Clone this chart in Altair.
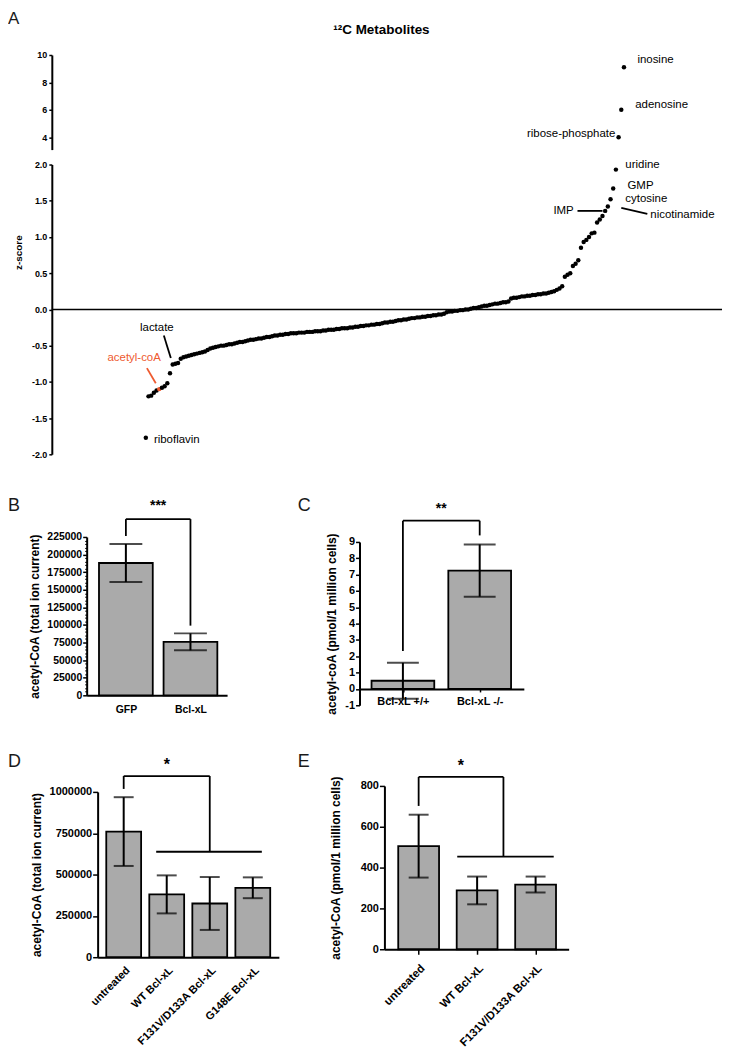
import json
import altair as alt
import pandas as pd

FONT = "Liberation Sans"
BAR_FILL = "#aaaaaa"
RED = "#ee5a2f"
MINUS = "\u2212"

# ---------------- Panel A : ranked z-scores of 12C metabolites ----------------
z_scores = [
    -1.77, -1.20, -1.19, -1.15, -1.12, -1.10, -1.08, -1.06, -1.02, -0.88,
    -0.76, -0.75, -0.74, -0.68, -0.66, -0.65, -0.64, -0.63, -0.62, -0.61,
    -0.60, -0.59, -0.58, -0.56, -0.54, -0.53, -0.52, -0.51, -0.50, -0.50,
    -0.49, -0.48, -0.48, -0.47, -0.46, -0.45, -0.45, -0.44, -0.43, -0.42,
    -0.42, -0.41, -0.40, -0.40, -0.39, -0.38, -0.38, -0.37, -0.36, -0.36,
    -0.35, -0.35, -0.34, -0.34, -0.33, -0.33, -0.33, -0.32, -0.32, -0.32,
    -0.31, -0.31, -0.31, -0.30, -0.30, -0.30, -0.29, -0.29, -0.28, -0.28,
    -0.28, -0.27, -0.27, -0.26, -0.26, -0.26, -0.25, -0.25, -0.24, -0.24,
    -0.23, -0.23, -0.22, -0.22, -0.21, -0.21, -0.20, -0.20, -0.19, -0.18,
    -0.18, -0.17, -0.17, -0.16, -0.15, -0.15, -0.14, -0.14, -0.13, -0.12,
    -0.12, -0.11, -0.11, -0.10, -0.10, -0.09, -0.09, -0.08, -0.08, -0.07,
    -0.07, -0.06, -0.04, -0.03, -0.03, -0.02, -0.02, -0.01, -0.01, 0.00,
    0.00, 0.01, 0.02, 0.02, 0.03, 0.04, 0.05, 0.05, 0.06, 0.07,
    0.08, 0.08, 0.09, 0.10, 0.10, 0.11, 0.15, 0.16, 0.16, 0.17,
    0.18, 0.18, 0.19, 0.19, 0.20, 0.20, 0.21, 0.21, 0.22, 0.22,
    0.23, 0.24, 0.25, 0.27, 0.29, 0.32, 0.45, 0.48, 0.50, 0.60,
    0.63, 0.68, 0.85, 0.93, 0.96, 1.00, 1.05, 1.06, 1.20, 1.24,
    1.29, 1.36, 1.42, 1.52, 1.67, 1.93, 4.0, 6.0, 9.1,
]
ACETYL_RANK = 5

lab_text = ["inosine", "adenosine", "ribose-phosphate", "uridine", "GMP", "cytosine",
            "nicotinamide", "IMP", "lactate", "acetyl-coA", "riboflavin"]
lab_rank = [183.0, 182.2, 174.8, 178.5, 179.3, 178.5, 187.8, 159.3, 4.1, 5.6, 3.0]
lab_z = [9.64, 6.38, 4.2, 2.0, 1.71, 1.53, 1.31, 1.36, -0.25, -0.67, -1.80]
lab_align = ["left", "left", "right", "left", "left", "left", "left", "right", "center", "right", "left"]
lab_color = ["black"] * 9 + [RED, "black"]

lead_r1 = [160.7, 177.0, 6.7, 0.4]
lead_z1 = [1.36, 1.40, -0.36, -0.81]
lead_r2 = [170.0, 186.7, 9.3, 3.7]
lead_z2 = [1.36, 1.32, -0.67, -1.02]
lead_color = ["black", "black", "black", RED]

# ---------------- Panels B-E : bar charts ----------------
catsB = ["GFP", "Bcl-xL"]
meanB = [188000, 76000]
errB = [27000, 12000]

catsC = ["Bcl-xL +/+", "Bcl-xL -/-"]
meanC = [0.5, 7.25]
errC = [1.1, 1.6]

catsD = ["untreated", "WT Bcl-xL", "F131V/D133A Bcl-xL", "G148E Bcl-xL"]
meanD = [760000, 380000, 325000, 420000]
errD = [208000, 115000, 160000, 63000]

catsE = ["untreated", "WT Bcl-xL", "F131V/D133A Bcl-xL"]
meanE = [505, 288, 317]
errE = [154, 68, 39]


def letter_layer(ch, x, y, fs=18):
    return alt.Chart(pd.DataFrame({"t": [ch]})).mark_text(
        align="left", baseline="alphabetic", fontSize=fs, fontWeight="normal",
        font=FONT, color="#1a1a1a"
    ).encode(text="t:N", x=alt.value(x), y=alt.value(y))


# ---------- Panel A ----------
dfA = pd.DataFrame({"rank": list(range(len(z_scores))), "z": z_scores})
labA = pd.DataFrame({"t": lab_text, "r": lab_rank, "z": lab_z, "a": lab_align, "c": lab_color})
leadA = pd.DataFrame({"r1": lead_r1, "z1": lead_z1, "r2": lead_r2, "z2": lead_z2, "c": lead_color})

xA_scale = alt.Scale(domain=[-35, 214.5], nice=False, zero=False)
yU_scale = alt.Scale(domain=[3.1, 10], nice=False, zero=False)
yL_scale = alt.Scale(domain=[-2, 2], nice=False, zero=False)

yU_axis = alt.Axis(values=[4, 6, 8, 10], format="d", title=None, tickSize=3,
                   labelFontSize=9, labelPadding=2, grid=False)
yL_axis = alt.Axis(values=[-2, -1.5, -1, -0.5, 0, 0.5, 1, 1.5, 2], title="z-score",
                   labelExpr=f"replace(format(datum.value, '.1f'), '{MINUS}', '-')",
                   titleFontSize=10, titleY=88, titlePadding=8, tickSize=3,
                   labelFontSize=9, labelPadding=2, grid=False)


def XA(f):
    return alt.X(f, scale=xA_scale, axis=None)


def YU(f, axis=None):
    return alt.Y(f, scale=yU_scale, axis=axis)


def YL(f, axis=None):
    return alt.Y(f, scale=yL_scale, axis=axis)


def label_layers(df_filter, yfunc):
    layers = []
    for al in ("left", "right", "center"):
        layers.append(
            alt.Chart(labA).transform_filter(df_filter + f" && datum.a == '{al}'")
            .mark_text(align=al, baseline="middle", fontSize=11.5, font=FONT)
            .encode(x=XA("r:Q"), y=yfunc("z:Q"), text="t:N",
                    color=alt.Color("c:N", scale=None))
        )
    return layers


upper_pts = alt.Chart(dfA).transform_filter("datum.z >= 3").mark_circle(
    size=20, opacity=1, color="black").encode(x=XA("rank:Q"), y=YU("z:Q", yU_axis))
title_A = alt.Chart(pd.DataFrame({"t": ["\u00b9\u00b2C Metabolites"]})).mark_text(
    align="center", baseline="middle", fontSize=13.5, fontWeight="bold", font=FONT, color="black"
).encode(text="t:N", x=alt.value(331), y=alt.value(-25))

upperA = alt.layer(
    upper_pts, *label_layers("datum.z >= 3", YU), title_A, letter_layer("A", -44, -31, 17)
).resolve_axis(y="independent").properties(width=673, height=95)

zero_rule = alt.Chart(pd.DataFrame({"y": [0]})).mark_rule(color="black", strokeWidth=1.5).encode(
    y=YL("y:Q"))
lower_pts = alt.Chart(dfA).transform_filter("datum.z < 3").mark_circle(size=20, opacity=1).encode(
    x=XA("rank:Q"), y=YL("z:Q", yL_axis),
    color=alt.condition(f"datum.rank == {ACETYL_RANK}", alt.value(RED), alt.value("black")))
leaders = alt.Chart(leadA).mark_rule(strokeWidth=1.8).encode(
    x=XA("r1:Q"), y=YL("z1:Q"), x2="r2:Q", y2="z2:Q", color=alt.Color("c:N", scale=None))

lowerA = alt.layer(
    zero_rule, lower_pts, leaders, *label_layers("datum.z < 3", YL)
).resolve_axis(y="independent").properties(width=673, height=291)

panelA = alt.vconcat(upperA, lowerA, spacing=15, bounds="flush")


# ---------- bar panel helper ----------
def bar_panel(cats, means, errs, xdom, ydom, yvals, width, height, barw, capw,
              ytitle, title_pad, ytick, ylab_fs, xlab_fs, xangle, xtick, xpad, xoffset,
              seg, star_text, star_x, star_y, star_fs, let,
              xrange=None, yrange=None, yoffset=0, minor_vals=None):
    n = len(cats)
    df = pd.DataFrame({"pos": list(range(n)), "mean": means, "err": errs})
    df["lo"] = df["mean"] - df["err"]
    df["hi"] = df["mean"] + df["err"]
    xs = dict(domain=xdom, nice=False, zero=False)
    if xrange is not None:
        xs["range"] = xrange
    ys = dict(domain=ydom, nice=False, zero=False)
    if yrange is not None:
        ys["range"] = yrange
    xscale = alt.Scale(**xs)
    yscale = alt.Scale(**ys)
    rotated = xangle != 0
    xaxis = alt.Axis(values=list(range(n)), labelExpr=json.dumps(cats) + "[datum.value]",
                     title=None, labelFontSize=xlab_fs, labelAngle=xangle,
                     labelAlign="right" if rotated else "center", labelBaseline="top",
                     labelPadding=xpad, ticks=xtick > 0, tickSize=xtick, tickWidth=1.5,
                     offset=xoffset, labelOverlap=False, labelFlush=False, grid=False,
                     domainWidth=2)
    yaxis = alt.Axis(values=yvals, title=ytitle, titleFontSize=12, titlePadding=title_pad,
                     tickSize=ytick, labelFontSize=ylab_fs, labelPadding=1, orient="left",
                     offset=yoffset,
                     labelExpr=f"replace(format(datum.value, 'd'), '{MINUS}', '-')",
                     labelOverlap=False, labelFlush=False, grid=False)

    def X(f):
        return alt.X(f, scale=xscale, axis=xaxis)

    def Y(f, axis=None):
        return alt.Y(f, scale=yscale, axis=axis)

    bars = alt.Chart(df).mark_bar(width=barw, fill=BAR_FILL, stroke="black", strokeWidth=1.8).encode(
        x=X("pos:Q"), y=Y("mean:Q", yaxis))
    err = alt.Chart(df).mark_rule(color="black", strokeWidth=2).encode(
        x=X("pos:Q"), y=Y("lo:Q"), y2="hi:Q")
    cap_hi = alt.Chart(df).mark_tick(orient="horizontal", size=capw, thickness=2, color="black").encode(
        x=X("pos:Q"), y=Y("hi:Q"))
    cap_lo = alt.Chart(df).mark_tick(orient="horizontal", size=capw, thickness=2, color="black").encode(
        x=X("pos:Q"), y=Y("lo:Q"))
    segdf = pd.DataFrame(seg, columns=["x1", "y1", "x2", "y2"])
    br = alt.Chart(segdf).mark_rule(color="black", strokeWidth=1.8).encode(
        x=X("x1:Q"), y=Y("y1:Q"), x2="x2:Q", y2="y2:Q")
    st = alt.Chart(pd.DataFrame({"s": [star_text], "x": [star_x], "y": [star_y]})).mark_text(
        fontSize=star_fs, fontWeight="bold", baseline="middle", align="center", font=FONT, color="black"
    ).encode(x=X("x:Q"), y=Y("y:Q"), text="s:N")
    layers = [bars, err, cap_hi, cap_lo, br, st, letter_layer(*let)]
    if minor_vals is not None:
        minor = alt.Chart(pd.DataFrame({"v": minor_vals})).mark_point(opacity=0).encode(
            y=alt.Y("v:Q", scale=yscale,
                    axis=alt.Axis(values=minor_vals, labels=False, domain=False, ticks=True,
                                  tickSize=2, tickWidth=1, title=None, orient="left",
                                  offset=yoffset, grid=False)))
        layers.append(minor)
    return alt.layer(*layers).resolve_axis(y="independent").properties(width=width, height=height)


# panel origins: B and D share the left edge of panel A (page x 52);
# B/C and D/E share their top edge -> axis offsets / scale ranges place the axes.
panelB = bar_panel(
    catsB, meanB, errB, [-0.53, 1.49], [0, 225000], list(range(0, 225001, 25000)),
    176, 159, 54, 33, "acetyl-CoA (total ion current)", 5, 4, 10.5, 10.5, 0, 0, 9, 0,
    [(0, 250400, 1, 250400), (0, 250400, 0, 226400), (1, 250400, 1, 99000)],
    "***", 0.5, 269000, 14, ("B", -44, -26),
    xrange=[35, 176], yoffset=-35,
    minor_vals=[v for v in range(0, 225001, 5000) if v % 25000 != 0],
)
panelC = bar_panel(
    catsC, meanC, errC, [-0.5, 1.51], [-1, 9], list(range(-1, 10)),
    165, 169, 63, 32, "acetyl-coA (pmol/1 million cells)", 6, 4, 11, 11, 0, 3, 4, -16.4,
    [(0, 10.3, 1, 10.3), (0, 10.3, 0, 2.32), (1, 10.3, 1, 9.4)],
    "**", 0.5, 11.0, 14, ("C", -62, -26),
    yrange=[169, 5],
)
panelD = bar_panel(
    catsD, meanD, errD, [-0.49, 3.49], [0, 1000000], [0, 250000, 500000, 750000, 1000000],
    228, 172, 35, 20, "acetyl-CoA (total ion current)", 6, 5, 11, 11, -45, 0, 7, 0,
    [(0, 1096000, 2, 1096000), (0, 1096000, 0, 1018000), (2, 1096000, 2, 638000),
     (0.755, 638000, 3.21, 638000)],
    "*", 1.0, 1163000, 16, ("D", -44, -19),
    xrange=[46, 228], yrange=[172, 6], yoffset=-46,
)
panelE = bar_panel(
    catsE, meanE, errE, [-0.5, 2.48], [0, 800], [0, 200, 400, 600, 800],
    185, 164, 41, 20, "acetyl-CoA (pmol/1 million cells)", 18, 5, 11, 11.5, -45, 5, 8, 0,
    [(0, 844, 1.45, 844), (0, 844, 0, 702), (1.45, 844, 1.45, 454), (0.66, 454, 2.31, 454)],
    "*", 0.72, 898, 16, ("E", -87, -19),
)

rowBC = alt.concat(panelB, panelC, columns=2, spacing=71, align="none")
rowDE = alt.concat(panelD, panelE, columns=2, spacing=19, align="none")

chart = alt.concat(panelA, rowBC, rowDE, columns=1, spacing=38, align="none").properties(
    padding={"left": 0, "top": 0, "right": 0, "bottom": 0}
).configure(font=FONT).configure_view(stroke=None).configure_axis(
    labelFont=FONT, labelFontWeight="bold", labelColor="black",
    titleFont=FONT, titleFontWeight="bold", titleColor="black",
    domainColor="black", tickColor="black", domainWidth=2, tickWidth=1.5, grid=False,
)

chart.save("out.html", embed_options={"renderer": "svg", "actions": False})
